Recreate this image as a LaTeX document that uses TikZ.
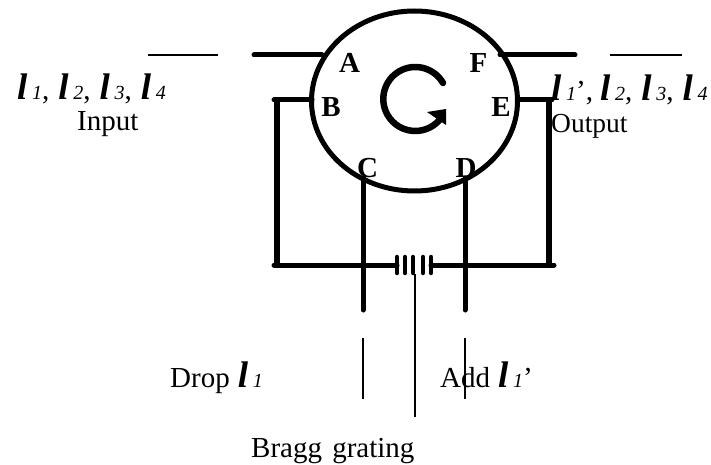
\documentclass[tikz,border=0pt]{standalone}
\usepackage{fontspec}
\usetikzlibrary{shapes.geometric}
\setmainfont{Liberation Serif}
\newcommand{\lamb}{\makebox[15pt][l]{\fontsize{37}{37}\selectfont\bfseries\itshape l}}
\newcommand{\lsub}[1]{{\fontsize{20}{20}\selectfont\itshape #1}}
\newcommand{\lgap}{\hspace{9pt}}
\begin{document}
\begin{tikzpicture}[x=1pt,y=-1pt,line join=round,
  thick line/.style={line width=5pt,line cap=round},
  wall/.style={line width=6pt},
  thin line/.style={line width=1.8pt},
  tick/.style={line width=4.5pt,line cap=round},
  label/.style={inner sep=0pt,anchor=base west,font=\fontsize{29}{29}\selectfont},
  port/.style={inner sep=0pt,anchor=base,font=\fontsize{29}{29}\selectfont\bfseries}]
\useasboundingbox (0,0) rectangle (711,465);
% circulator
\node[draw,ellipse,line width=5pt,minimum width=206pt,minimum height=180pt,inner sep=0pt] (circ) at (414.5,101) {};
% coordinates
\coordinate (a0) at (148,55); \coordinate (a1) at (218,55);
\coordinate (a2) at (254,55); \coordinate (a3) at (322,55);
\coordinate (f0) at (500,55); \coordinate (f1) at (575,55);
\coordinate (f2) at (610,55); \coordinate (f3) at (682,55);
\coordinate (bend) at (312,100); \coordinate (b1) at (274,100);
\coordinate (bl) at (277,100); \coordinate (bl2) at (277,265);
\coordinate (h0) at (274,265); \coordinate (h1) at (397,265);
\coordinate (h2) at (431,265); \coordinate (h3) at (554,265);
\coordinate (e0) at (518,100); \coordinate (e1) at (552,100);
\coordinate (er) at (549,100); \coordinate (er2) at (549,265);
\coordinate (c0) at (363,178); \coordinate (c1) at (363,310);
\coordinate (d0) at (465,178); \coordinate (d1) at (465,310);
\coordinate (c2) at (363,338); \coordinate (c3) at (363,399);
\coordinate (d2) at (465,338); \coordinate (d3) at (465,399);
\coordinate (g0) at (415,274); \coordinate (g1) at (415,417);
% lines
\draw[thin line] (a0) -- (a1);
\draw[thick line] (a2) -- (a3);
\draw[thick line] (f0) -- (f1);
\draw[thin line] (f2) -- (f3);
\draw[thick line] (b1) -- (bend);
\draw[wall] (bl) -- (bl2);
\draw[thick line] (h0) -- (h1);
\draw[thick line] (h2) -- (h3);
\draw[thick line] (e0) -- (e1);
\draw[wall] (er) -- (er2);
\draw[thick line] (c0) -- (c1);
\draw[thick line] (d0) -- (d1);
\draw[thin line] (c2) -- (c3);
\draw[thin line] (d2) -- (d3);
\draw[thin line] (g0) -- (g1);
% grating
\foreach \x in {397,405,413,423,431}
  \draw[tick] (\x,257) -- (\x,273);
% rotation arrow
\draw[line width=6.5pt,line cap=round] (443,83) arc[start angle=-30,end angle=-323,x radius=32pt,y radius=-32pt];
\fill[line join=round] (427,112) -- (446,109) -- (446,125) -- cycle;
% ports
\node[port] (A) at (349.5,73) {A};
\node[port] (B) at (331,117) {B};
\node[port] (C) at (367.5,177) {C};
\node[port] (D) at (466,177) {D};
\node[port] (E) at (501,117) {E};
\node[port] (F) at (478.5,73) {F};
% labels
\node[label] (inw) at (17,100) {\lamb\lsub{1},\lgap\lamb\lsub{2},\lgap\lamb\lsub{3},\lgap\lamb\lsub{4}};
\node[label] (inp) at (77,131) {Input};
\node[label,font=\fontsize{27.5}{28}\selectfont] (outp) at (551,133) {Output};
\node[label] (outw) at (551,101) {\lamb\lsub{1}’,\hspace{7pt}\lamb\lsub{2},\lgap\lamb\lsub{3},\lgap\lamb\lsub{4}};
\node[label] (drop) at (170,387) {Drop\hspace{8pt}\lamb\lsub{1}};
\node[label] (add) at (440,387) {Add\hspace{8pt}\lamb\lsub{1}’};
\node[label] (bragg) at (251,457) {Bragg\hspace{3pt} grating};
\end{tikzpicture}
\end{document}
